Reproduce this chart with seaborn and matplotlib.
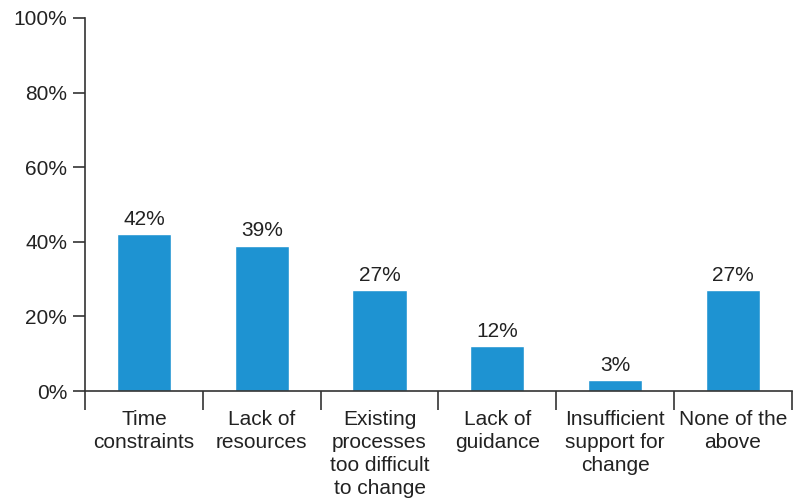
import matplotlib
matplotlib.use("Agg")
import matplotlib.pyplot as plt
import numpy as np
import pandas as pd
import seaborn as sns

categories = [
    "Time\nconstraints",
    "Lack of\nresources",
    "Existing\nprocesses\ntoo difficult\nto change",
    "Lack of\nguidance",
    "Insufficient\nsupport for\nchange",
    "None of the\nabove",
]
values = [42, 39, 27, 12, 3, 27]
yticks = [0, 20, 40, 60, 80, 100]

df = pd.DataFrame({"category": categories, "value": values})

sns.set_style("white")
plt.rcParams["font.family"] = ["Liberation Sans", "DejaVu Sans"]

fig = plt.figure(figsize=(7.95, 4.99), dpi=100)
ax = fig.add_axes([0.107, 0.2164, 0.889, 0.7476])

sns.barplot(data=df, x="category", y="value", color="#1E93D2", width=0.46,
            saturation=1, ax=ax)

for i, v in enumerate(values):
    ax.text(i, v + 1.4, f"{v}%", ha="center", va="bottom", fontsize=15,
            color="#222222")

ax.set_xlim(-0.5, len(categories) - 0.5)
ax.set_ylim(0, 100)
ax.set_yticks(yticks)
ax.set_yticklabels([f"{t}%" for t in yticks], fontsize=15, color="#222222")
ax.set_xlabel("")
ax.set_ylabel("")

ax.set_xticks(np.arange(len(categories)))
ax.set_xticklabels(categories, fontsize=15, color="#222222", linespacing=1.25)
ax.set_xticks(np.arange(-0.5, len(categories)), minor=True)
ax.tick_params(axis="x", which="major", length=0, pad=14, bottom=True)
ax.tick_params(axis="x", which="minor", length=14, width=1.2, color="#333333",
               direction="out", bottom=True)
ax.tick_params(axis="y", length=9, width=1.2, color="#333333", direction="out",
               pad=4, left=True)

for s in ["top", "right"]:
    ax.spines[s].set_visible(False)
for s in ["left", "bottom"]:
    ax.spines[s].set_color("#333333")
    ax.spines[s].set_linewidth(1.2)

fig.savefig("out.png", dpi=100)
